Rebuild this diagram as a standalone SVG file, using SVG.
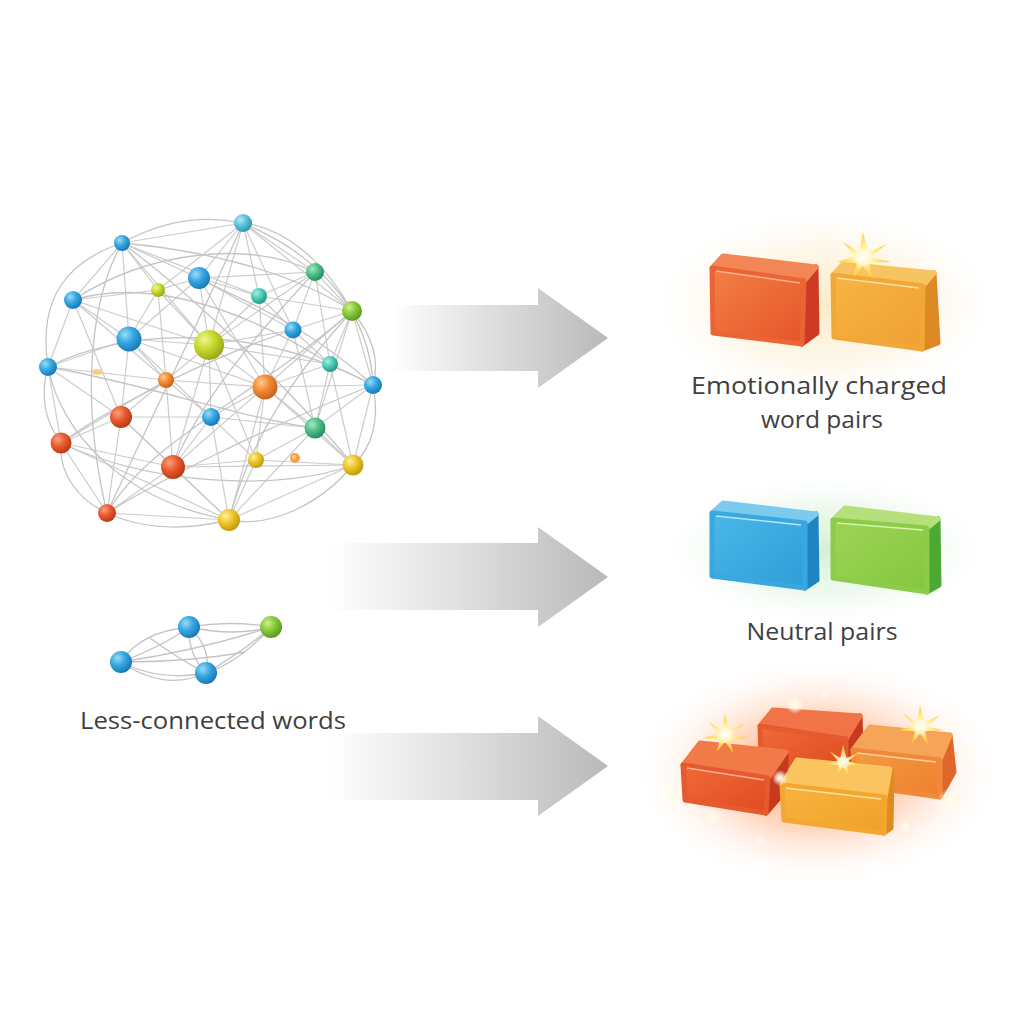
<svg xmlns="http://www.w3.org/2000/svg" width="1024" height="1024" viewBox="0 0 1024 1024">
<defs>
<style>
.e{stroke:#c6c6c6;stroke-width:1.2;fill:none;opacity:0.9}
.c{fill:none;stroke:#c4c4c4;stroke-width:1.3}
.lbl{font-family:"Open Sans","Liberation Sans",sans-serif;font-size:24px;fill:#3f3f3f;text-anchor:middle}
.f{stroke-linejoin:round;stroke-width:5}
</style>
<radialGradient id="gBlue" cx="35%" cy="32%" r="70%"><stop offset="0" stop-color="#9adcf6"/><stop offset="0.5" stop-color="#35a6e0"/><stop offset="1" stop-color="#1a78b8"/></radialGradient>
<radialGradient id="gCyan" cx="35%" cy="32%" r="70%"><stop offset="0" stop-color="#b4eaf2"/><stop offset="0.5" stop-color="#58c3d8"/><stop offset="1" stop-color="#2f93b0"/></radialGradient>
<radialGradient id="gTeal" cx="35%" cy="32%" r="70%"><stop offset="0" stop-color="#a8f0e0"/><stop offset="0.5" stop-color="#4ccab6"/><stop offset="1" stop-color="#249880"/></radialGradient>
<radialGradient id="gGT" cx="35%" cy="32%" r="70%"><stop offset="0" stop-color="#a8e8c0"/><stop offset="0.5" stop-color="#4cbf86"/><stop offset="1" stop-color="#22905e"/></radialGradient>
<radialGradient id="gGreen" cx="35%" cy="32%" r="70%"><stop offset="0" stop-color="#ccf08a"/><stop offset="0.5" stop-color="#86c93a"/><stop offset="1" stop-color="#5a9a20"/></radialGradient>
<radialGradient id="gYG" cx="35%" cy="32%" r="70%"><stop offset="0" stop-color="#f0f690"/><stop offset="0.5" stop-color="#c6d82a"/><stop offset="1" stop-color="#98a818"/></radialGradient>
<radialGradient id="gOrange" cx="35%" cy="32%" r="70%"><stop offset="0" stop-color="#ffc890"/><stop offset="0.5" stop-color="#f08a32"/><stop offset="1" stop-color="#c8601a"/></radialGradient>
<radialGradient id="gRed" cx="35%" cy="32%" r="70%"><stop offset="0" stop-color="#ffa080"/><stop offset="0.5" stop-color="#e85a2c"/><stop offset="1" stop-color="#b83a18"/></radialGradient>
<radialGradient id="gYellow" cx="35%" cy="32%" r="70%"><stop offset="0" stop-color="#fff0a0"/><stop offset="0.5" stop-color="#ecc428"/><stop offset="1" stop-color="#c09a10"/></radialGradient>
<linearGradient id="arrow1" gradientUnits="userSpaceOnUse" x1="390" y1="0" x2="608" y2="0"><stop offset="0" stop-color="#ffffff"/><stop offset="0.35" stop-color="#e6e6e6"/><stop offset="1" stop-color="#b9b9b9"/></linearGradient>
<linearGradient id="arrow2" gradientUnits="userSpaceOnUse" x1="330" y1="0" x2="608" y2="0"><stop offset="0" stop-color="#ffffff"/><stop offset="0.35" stop-color="#e8e8e8"/><stop offset="1" stop-color="#b9b9b9"/></linearGradient>
<radialGradient id="glowY"><stop offset="0" stop-color="#fbe6b8" stop-opacity="0.8"/><stop offset="0.6" stop-color="#fdf0d8" stop-opacity="0.5"/><stop offset="1" stop-color="#ffffff" stop-opacity="0"/></radialGradient>
<radialGradient id="glowG"><stop offset="0" stop-color="#c8ecc8" stop-opacity="0.8"/><stop offset="0.6" stop-color="#e4f5e4" stop-opacity="0.5"/><stop offset="1" stop-color="#ffffff" stop-opacity="0"/></radialGradient>
<radialGradient id="glowO"><stop offset="0" stop-color="#ff8a40" stop-opacity="0.75"/><stop offset="0.5" stop-color="#ffb080" stop-opacity="0.5"/><stop offset="1" stop-color="#ffffff" stop-opacity="0"/></radialGradient>
<radialGradient id="spark"><stop offset="0" stop-color="#ffffff" stop-opacity="1"/><stop offset="0.4" stop-color="#fffbe0" stop-opacity="0.8"/><stop offset="1" stop-color="#ffffff" stop-opacity="0"/></radialGradient>
<radialGradient id="starG"><stop offset="0" stop-color="#ffffff"/><stop offset="0.35" stop-color="#fff3a0"/><stop offset="1" stop-color="#ffc820"/></radialGradient>
<linearGradient id="fRed" x1="0" y1="0" x2="1" y2="1"><stop offset="0" stop-color="#f38048"/><stop offset="1" stop-color="#e65428"/></linearGradient>
<linearGradient id="fOr" x1="0" y1="0" x2="1" y2="1"><stop offset="0" stop-color="#f6b445"/><stop offset="1" stop-color="#f0a030"/></linearGradient>
<linearGradient id="fBlue" x1="0" y1="0" x2="1" y2="1"><stop offset="0" stop-color="#4ab8e8"/><stop offset="1" stop-color="#2f9cd8"/></linearGradient>
<linearGradient id="fGreen" x1="0" y1="0" x2="1" y2="1"><stop offset="0" stop-color="#9ed456"/><stop offset="1" stop-color="#84c640"/></linearGradient>
<linearGradient id="fRed2" x1="0" y1="0" x2="1" y2="1"><stop offset="0" stop-color="#f06a38"/><stop offset="1" stop-color="#e04a22"/></linearGradient>
<linearGradient id="fOr2" x1="0" y1="0" x2="1" y2="1"><stop offset="0" stop-color="#f49a40"/><stop offset="1" stop-color="#ee8030"/></linearGradient>
<linearGradient id="fYel" x1="0" y1="0" x2="1" y2="1"><stop offset="0" stop-color="#f8b440"/><stop offset="1" stop-color="#f0a028"/></linearGradient>
<symbol id="star" viewBox="-30 -30 60 60" overflow="visible"><path d="M0,-26 L5,-6 L24,-14 L8,-1 L28,4 L6,5 L10,22 L0,8 L-10,20 L-6,5 L-26,4 L-8,-2 L-20,-16 L-4,-6 Z" fill="url(#starG)" opacity="0.9"/><circle r="10" fill="url(#spark)"/></symbol>
</defs>
<rect width="1024" height="1024" fill="#ffffff"/>

<g id="connectors">
<line class="e" x1="243" y1="223" x2="122" y2="243"/><line class="e" x1="243" y1="223" x2="199" y2="278"/><line class="e" x1="243" y1="223" x2="315" y2="272"/><line class="e" x1="243" y1="223" x2="259" y2="296"/><line class="e" x1="243" y1="223" x2="209" y2="345"/><line class="e" x1="243" y1="223" x2="158" y2="290"/><line class="e" x1="243" y1="223" x2="352" y2="311"/><line class="e" x1="243" y1="223" x2="293" y2="330"/>
<line class="e" x1="122" y1="243" x2="199" y2="278"/><line class="e" x1="122" y1="243" x2="158" y2="290"/><line class="e" x1="122" y1="243" x2="73" y2="300"/><line class="e" x1="122" y1="243" x2="129" y2="339"/><line class="e" x1="122" y1="243" x2="209" y2="345"/><line class="e" x1="122" y1="243" x2="259" y2="296"/>
<line class="e" x1="199" y1="278" x2="158" y2="290"/><line class="e" x1="199" y1="278" x2="259" y2="296"/><line class="e" x1="199" y1="278" x2="209" y2="345"/><line class="e" x1="199" y1="278" x2="129" y2="339"/><line class="e" x1="199" y1="278" x2="315" y2="272"/><line class="e" x1="199" y1="278" x2="293" y2="330"/><line class="e" x1="199" y1="278" x2="265" y2="387"/>
<line class="e" x1="315" y1="272" x2="259" y2="296"/><line class="e" x1="315" y1="272" x2="352" y2="311"/><line class="e" x1="315" y1="272" x2="293" y2="330"/><line class="e" x1="315" y1="272" x2="209" y2="345"/><line class="e" x1="315" y1="272" x2="330" y2="364"/>
<line class="e" x1="158" y1="290" x2="73" y2="300"/><line class="e" x1="158" y1="290" x2="129" y2="339"/><line class="e" x1="158" y1="290" x2="209" y2="345"/><line class="e" x1="158" y1="290" x2="166" y2="380"/>
<line class="e" x1="259" y1="296" x2="209" y2="345"/><line class="e" x1="259" y1="296" x2="293" y2="330"/><line class="e" x1="259" y1="296" x2="352" y2="311"/><line class="e" x1="259" y1="296" x2="265" y2="387"/>
<line class="e" x1="73" y1="300" x2="129" y2="339"/><line class="e" x1="73" y1="300" x2="48" y2="367"/><line class="e" x1="73" y1="300" x2="209" y2="345"/><line class="e" x1="73" y1="300" x2="166" y2="380"/><line class="e" x1="73" y1="300" x2="121" y2="417"/>
<line class="e" x1="352" y1="311" x2="293" y2="330"/><line class="e" x1="352" y1="311" x2="330" y2="364"/><line class="e" x1="352" y1="311" x2="373" y2="385"/><line class="e" x1="352" y1="311" x2="265" y2="387"/><line class="e" x1="352" y1="311" x2="315" y2="428"/>
<line class="e" x1="129" y1="339" x2="209" y2="345"/><line class="e" x1="129" y1="339" x2="48" y2="367"/><line class="e" x1="129" y1="339" x2="166" y2="380"/><line class="e" x1="129" y1="339" x2="121" y2="417"/><line class="e" x1="129" y1="339" x2="265" y2="387"/><line class="e" x1="129" y1="339" x2="211" y2="417"/>
<line class="e" x1="209" y1="345" x2="166" y2="380"/><line class="e" x1="209" y1="345" x2="265" y2="387"/><line class="e" x1="209" y1="345" x2="211" y2="417"/><line class="e" x1="209" y1="345" x2="293" y2="330"/><line class="e" x1="209" y1="345" x2="330" y2="364"/><line class="e" x1="209" y1="345" x2="173" y2="467"/><line class="e" x1="209" y1="345" x2="256" y2="460"/>
<line class="e" x1="293" y1="330" x2="330" y2="364"/><line class="e" x1="293" y1="330" x2="265" y2="387"/><line class="e" x1="293" y1="330" x2="315" y2="428"/>
<line class="e" x1="330" y1="364" x2="373" y2="385"/><line class="e" x1="330" y1="364" x2="265" y2="387"/><line class="e" x1="330" y1="364" x2="315" y2="428"/><line class="e" x1="330" y1="364" x2="353" y2="465"/>
<line class="e" x1="48" y1="367" x2="121" y2="417"/><line class="e" x1="48" y1="367" x2="61" y2="443"/><line class="e" x1="48" y1="367" x2="166" y2="380"/>
<line class="e" x1="373" y1="385" x2="315" y2="428"/><line class="e" x1="373" y1="385" x2="353" y2="465"/><line class="e" x1="373" y1="385" x2="265" y2="387"/>
<line class="e" x1="166" y1="380" x2="121" y2="417"/><line class="e" x1="166" y1="380" x2="211" y2="417"/><line class="e" x1="166" y1="380" x2="173" y2="467"/><line class="e" x1="166" y1="380" x2="265" y2="387"/><line class="e" x1="166" y1="380" x2="61" y2="443"/>
<line class="e" x1="265" y1="387" x2="211" y2="417"/><line class="e" x1="265" y1="387" x2="315" y2="428"/><line class="e" x1="265" y1="387" x2="256" y2="460"/><line class="e" x1="265" y1="387" x2="353" y2="465"/><line class="e" x1="265" y1="387" x2="229" y2="520"/><line class="e" x1="265" y1="387" x2="173" y2="467"/>
<line class="e" x1="121" y1="417" x2="61" y2="443"/><line class="e" x1="121" y1="417" x2="173" y2="467"/><line class="e" x1="121" y1="417" x2="211" y2="417"/><line class="e" x1="121" y1="417" x2="107" y2="513"/><line class="e" x1="121" y1="417" x2="229" y2="520"/>
<line class="e" x1="211" y1="417" x2="173" y2="467"/><line class="e" x1="211" y1="417" x2="256" y2="460"/><line class="e" x1="211" y1="417" x2="229" y2="520"/><line class="e" x1="211" y1="417" x2="315" y2="428"/>
<line class="e" x1="315" y1="428" x2="256" y2="460"/><line class="e" x1="315" y1="428" x2="353" y2="465"/><line class="e" x1="315" y1="428" x2="229" y2="520"/>
<line class="e" x1="61" y1="443" x2="107" y2="513"/><line class="e" x1="61" y1="443" x2="173" y2="467"/><line class="e" x1="61" y1="443" x2="229" y2="520"/>
<line class="e" x1="173" y1="467" x2="107" y2="513"/><line class="e" x1="173" y1="467" x2="229" y2="520"/><line class="e" x1="173" y1="467" x2="256" y2="460"/><line class="e" x1="173" y1="467" x2="353" y2="465"/>
<line class="e" x1="256" y1="460" x2="353" y2="465"/><line class="e" x1="256" y1="460" x2="229" y2="520"/><line class="e" x1="353" y1="465" x2="229" y2="520"/><line class="e" x1="107" y1="513" x2="229" y2="520"/>
<path class="c" d="M48,367 C38,300 65,262 122,243"/><path class="c" d="M122,243 C160,222 200,214 243,223"/><path class="c" d="M243,223 C285,228 325,262 352,311"/><path class="c" d="M352,311 C372,335 380,360 373,385"/><path class="c" d="M373,385 C380,420 372,448 353,465"/><path class="c" d="M353,465 C320,505 270,528 229,520"/><path class="c" d="M229,520 C180,532 140,528 107,513"/><path class="c" d="M107,513 C78,500 58,472 61,443"/><path class="c" d="M61,443 C44,420 40,395 48,367"/>
<path class="c" d="M73,300 C150,250 250,240 315,272"/><path class="c" d="M48,367 C120,330 250,320 373,385"/><path class="c" d="M61,443 C150,485 280,492 353,465"/><path class="c" d="M107,513 C150,440 250,400 352,311"/><path class="c" d="M122,243 C200,300 300,400 353,465"/><path class="c" d="M243,223 C200,320 150,420 107,513"/><path class="c" d="M243,223 C330,260 370,320 373,385"/><path class="c" d="M48,367 C60,430 120,500 229,520"/><path class="c" d="M122,243 C90,300 80,400 107,513"/>
<path class="c" d="M73,300 C140,280 230,300 330,364"/><path class="c" d="M122,243 C200,250 290,270 352,311"/><path class="c" d="M48,367 C130,380 250,420 315,428"/><path class="c" d="M61,443 C120,400 230,350 293,330"/><path class="c" d="M229,520 C250,440 290,380 352,311"/><path class="c" d="M107,513 C160,480 260,430 373,385"/><path class="c" d="M199,278 C240,300 300,320 373,385"/><path class="c" d="M315,272 C260,330 200,400 173,467"/>
<path class="c" d="M121,662 Q140,632 189,627"/><path class="c" d="M121,662 Q165,645 189,627"/><path class="c" d="M121,662 Q160,682 206,673"/><path class="c" d="M121,662 Q165,692 206,673"/><path class="c" d="M121,662 Q200,650 271,627"/><path class="c" d="M189,627 Q230,620 271,627"/><path class="c" d="M189,627 Q235,637 271,627"/><path class="c" d="M189,627 Q188,655 206,673"/><path class="c" d="M189,627 Q212,648 206,673"/><path class="c" d="M206,673 Q240,662 271,627"/><path class="c" d="M206,673 Q248,648 271,627"/><path class="c" d="M121,662 Q190,662 245,652"/><path class="c" d="M150,638 Q180,660 206,673"/>
</g>

<g id="network-nodes">
<g id="node-1"><circle cx="243" cy="223" r="9" fill="url(#gCyan)"/></g>
<g id="node-2"><circle cx="122" cy="243" r="8" fill="url(#gBlue)"/></g>
<g id="node-3"><circle cx="199" cy="278" r="11" fill="url(#gBlue)"/></g>
<g id="node-4"><circle cx="315" cy="272" r="9" fill="url(#gGT)"/></g>
<g id="node-5"><circle cx="158" cy="290" r="7" fill="url(#gYG)"/></g>
<g id="node-6"><circle cx="259" cy="296" r="8" fill="url(#gTeal)"/></g>
<g id="node-7"><circle cx="73" cy="300" r="9" fill="url(#gBlue)"/></g>
<g id="node-8"><circle cx="352" cy="311" r="10" fill="url(#gGreen)"/></g>
<g id="node-9"><circle cx="129" cy="339" r="12.5" fill="url(#gBlue)"/></g>
<g id="node-10"><circle cx="209" cy="345" r="15" fill="url(#gYG)"/></g>
<g id="node-11"><circle cx="293" cy="330" r="8.5" fill="url(#gBlue)"/></g>
<g id="node-12"><circle cx="330" cy="364" r="8" fill="url(#gTeal)"/></g>
<g id="node-13"><circle cx="48" cy="367" r="9" fill="url(#gBlue)"/></g>
<g id="node-14"><circle cx="373" cy="385" r="9" fill="url(#gBlue)"/></g>
<g id="node-15"><circle cx="166" cy="380" r="8" fill="url(#gOrange)"/></g>
<g id="node-16"><circle cx="265" cy="387" r="12.5" fill="url(#gOrange)"/></g>
<g id="node-17"><circle cx="121" cy="417" r="11" fill="url(#gRed)"/></g>
<g id="node-18"><circle cx="211" cy="417" r="9" fill="url(#gBlue)"/></g>
<g id="node-19"><circle cx="315" cy="428" r="10.5" fill="url(#gGT)"/></g>
<g id="node-20"><circle cx="61" cy="443" r="10.5" fill="url(#gRed)"/></g>
<g id="node-21"><circle cx="173" cy="467" r="12" fill="url(#gRed)"/></g>
<g id="node-22"><circle cx="256" cy="460" r="8" fill="url(#gYellow)"/></g>
<g id="node-23"><circle cx="353" cy="465" r="10.5" fill="url(#gYellow)"/></g>
<g id="node-24"><circle cx="107" cy="513" r="9" fill="url(#gRed)"/></g>
<g id="node-25"><circle cx="229" cy="520" r="11" fill="url(#gYellow)"/></g>
<g id="speck-1"><ellipse cx="97" cy="372" rx="6" ry="3" fill="#f6c870" opacity="0.8"/></g>
<g id="speck-2"><circle cx="295" cy="458" r="5" fill="#f09030" opacity="0.85"/><circle cx="294" cy="457" r="2" fill="#ffd080"/></g>
</g>

<g id="small-network">
<g id="snode-1"><circle cx="189" cy="627" r="11" fill="url(#gBlue)"/></g>
<g id="snode-2"><circle cx="121" cy="662" r="11" fill="url(#gBlue)"/></g>
<g id="snode-3"><circle cx="206" cy="673" r="11" fill="url(#gBlue)"/></g>
<g id="snode-4"><circle cx="271" cy="627" r="11" fill="url(#gGreen)"/></g>
</g>

<g id="arrows">
<path id="arrow-top" d="M390,305 L538,305 L538,288 L608,338 L538,388 L538,371 L390,371 Z" fill="url(#arrow1)"/>
<path id="arrow-mid" d="M330,543 L538,543 L538,527 L608,577 L538,627 L538,610 L330,610 Z" fill="url(#arrow2)"/>
<path id="arrow-bot" d="M330,733 L538,733 L538,716 L608,766 L538,816 L538,800 L330,800 Z" fill="url(#arrow2)"/>
</g>

<g id="emotional-pair">
<ellipse cx="825" cy="305" rx="180" ry="100" fill="url(#glowY)"/>
<g id="block-red">
<polygon class="f" points="804,281 816,267 817,333 802,344" fill="#cf3a24" stroke="#cf3a24"/>
<polygon class="f" points="712,268 723,256 816,267 804,281" fill="#f28656" stroke="#f28656"/>
<polygon class="f" points="712,268 804,281 802,344 713,333" fill="url(#fRed)" stroke="#ea6434"/>
<path d="M716,271 L800,283" stroke="#ffb090" stroke-width="1.5" fill="none"/>
</g>
<g id="block-orange">
<polygon class="f" points="923,286 934,273 938,343 922,349" fill="#de8a24" stroke="#de8a24"/>
<polygon class="f" points="833,275 843,264 934,273 923,286" fill="#f8c462" stroke="#f8c462"/>
<polygon class="f" points="833,275 923,286 922,349 834,337" fill="url(#fOr)" stroke="#f2a838"/>
<path d="M837,278 L919,288" stroke="#fde0a0" stroke-width="1.5" fill="none"/>
</g>
<use href="#star" x="833" y="228" width="60" height="60"/>
</g>

<g id="neutral-pair">
<ellipse cx="825" cy="550" rx="170" ry="80" fill="url(#glowG)"/>
<g id="block-blue">
<polygon class="f" points="805,523 816,514 817,580 805,588" fill="#1f84c2" stroke="#1f84c2"/>
<polygon class="f" points="712,513 723,503 816,514 805,523" fill="#7ccbee" stroke="#7ccbee"/>
<polygon class="f" points="712,513 805,523 805,588 712,576" fill="url(#fBlue)" stroke="#38a8e0"/>
<path d="M716,516 L801,525" stroke="#b8e6f8" stroke-width="1.5" fill="none"/>
</g>
<g id="block-green">
<polygon class="f" points="927,528 938,519 939,585 927,592" fill="#4caa34" stroke="#4caa34"/>
<polygon class="f" points="833,520 845,508 938,519 927,528" fill="#b6e07c" stroke="#b6e07c"/>
<polygon class="f" points="833,520 927,528 927,592 833,578" fill="url(#fGreen)" stroke="#8ccc4a"/>
<path d="M837,523 L923,530" stroke="#d8f2b0" stroke-width="1.5" fill="none"/>
</g>
</g>

<g id="charged-cluster">
<ellipse cx="818" cy="772" rx="185" ry="115" fill="url(#glowO)"/>
<g id="block-back">
<polygon class="f" points="846,739 860,716 861,750 846,772" fill="#c83a20" stroke="#c83a20"/>
<polygon class="f" points="760,726 773,710 860,716 846,739" fill="#f07448" stroke="#f07448"/>
<polygon class="f" points="760,726 846,739 846,772 761,762" fill="url(#fRed2)" stroke="#e65a30"/>
</g>
<g id="block-right">
<polygon class="f" points="940,760 950,735 954,772 940,797" fill="#e0662a" stroke="#e0662a"/>
<polygon class="f" points="853,750 870,727 950,735 940,760" fill="#f6a458" stroke="#f6a458"/>
<polygon class="f" points="853,750 940,760 940,797 855,785" fill="url(#fOr2)" stroke="#f08a38"/>
<path d="M857,753 L936,762" stroke="#ffd0a0" stroke-width="1.5" fill="none"/>
</g>
<g id="block-left">
<polygon class="f" points="768,778 786,752 786,790 766,813" fill="#c83a20" stroke="#c83a20"/>
<polygon class="f" points="683,765 700,743 786,752 768,778" fill="#f07a48" stroke="#f07a48"/>
<polygon class="f" points="683,765 768,778 766,813 685,800" fill="url(#fRed2)" stroke="#e65a30"/>
<path d="M687,768 L764,780" stroke="#ffb090" stroke-width="1.5" fill="none"/>
</g>
<g id="block-front">
<polygon class="f" points="885,797 892,770 891,828 884,833" fill="#e08a20" stroke="#e08a20"/>
<polygon class="f" points="782,785 797,760 890,769 885,797" fill="#fac460" stroke="#fac460"/>
<polygon class="f" points="782,785 885,797 884,833 784,820" fill="url(#fYel)" stroke="#f2a830"/>
<path d="M786,788 L881,799" stroke="#ffe0a0" stroke-width="1.5" fill="none"/>
</g>
<use href="#star" x="700" y="710" width="50" height="50"/>
<use href="#star" x="895" y="702" width="50" height="50"/>
<use href="#star" x="823" y="742" width="40" height="40"/>
<circle cx="795" cy="705" r="9" fill="url(#spark)"/>
<circle cx="770" cy="690" r="6" fill="url(#spark)"/>
<circle cx="673" cy="795" r="10" fill="url(#spark)"/>
<circle cx="713" cy="818" r="7" fill="url(#spark)"/>
<circle cx="950" cy="800" r="12" fill="url(#spark)"/>
<circle cx="970" cy="752" r="7" fill="url(#spark)"/>
<circle cx="950" cy="722" r="6" fill="url(#spark)"/>
<circle cx="780" cy="778" r="8" fill="url(#spark)"/>
<circle cx="905" cy="827" r="6" fill="url(#spark)"/>
<circle cx="825" cy="695" r="5" fill="url(#spark)"/>
<circle cx="760" cy="840" r="5" fill="url(#spark)"/>
</g>

<g id="labels">
<text class="lbl" x="819" y="394" textLength="256" lengthAdjust="spacingAndGlyphs">Emotionally charged</text>
<text class="lbl" x="822" y="428" textLength="122" lengthAdjust="spacingAndGlyphs">word pairs</text>
<text class="lbl" x="822" y="640" textLength="151" lengthAdjust="spacingAndGlyphs">Neutral pairs</text>
<text class="lbl" x="213" y="729" textLength="266" lengthAdjust="spacingAndGlyphs">Less-connected words</text>
</g>
</svg>
